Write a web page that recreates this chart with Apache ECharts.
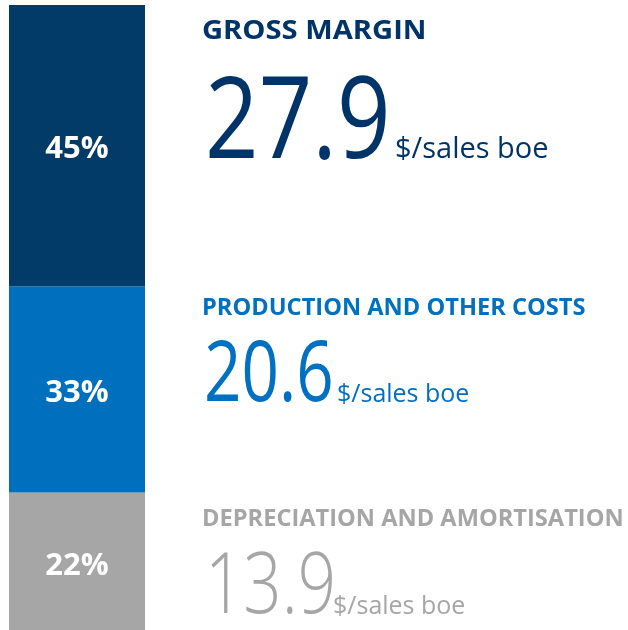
<!DOCTYPE html>
<html>
<head>
<meta charset="utf-8">
<style>
html,body{margin:0;padding:0;background:#fff;}
#chart{width:628px;height:630px;}
</style>
<script src="https://cdn.jsdelivr.net/npm/echarts@6/dist/echarts.min.js"></script>
</head>
<body>
<div id="chart"></div>
<script>
// ---- data ----
const categories = ['Cost structure'];
const segmentNames = ['Depreciation and amortisation', 'Production and other costs', 'Gross margin'];
const shares = [22, 33, 45];               // % of bar, bottom to top
const perBoe = [13.9, 20.6, 27.9];          // $/sales boe, same order
const headings = ['DEPRECIATION AND AMORTISATION', 'PRODUCTION AND OTHER COSTS', 'GROSS MARGIN'];
const unitLabel = '$/sales boe';

// ---- styles ----
const barColors = ['#A6A6A6', '#0070BE', '#023B67'];
const textColors = ['#A6A6A6', '#0070C0', '#003469'];
const labelOffsets = [5, 4, 4];
const FONT = '"Open Sans", "Noto Sans", sans-serif';

const chart = echarts.init(document.getElementById('chart'), null, {renderer: 'canvas'});

const series = segmentNames.map((name, i) => ({
  name: name,
  type: 'bar',
  stack: 'total',
  barWidth: '100%',
  data: [shares[i]],
  itemStyle: {color: barColors[i]},
  label: {
    show: true,
    position: 'inside',
    offset: [0, labelOffsets[i]],
    formatter: '{c}%',
    color: '#fff',
    fontFamily: FONT,
    fontWeight: 'bold',
    fontSize: 31
  },
  emphasis: {disabled: true},
  silent: true
}));

// layout of text blocks
const layout = {
  2: {headY: 31, headSize: 27.5, headScale: 1.06, numX: 205, numY: 126, numSize: 113, numWeight: 400, numScale: 0.83, unitX: 395, unitY: 150, unitSize: 29},
  1: {headY: 309, headSize: 22.5, headScale: 1.05, numX: 204, numY: 377, numSize: 84, numWeight: 400, numScale: 0.78, unitX: 337, unitY: 395, unitSize: 25},
  0: {headY: 520, headSize: 22.5, headScale: 1.05, numX: 205, numY: 589, numSize: 84, numWeight: 300, numScale: 0.80, unitX: 333, unitY: 607, unitSize: 25}
};

const graphics = [];
[2, 1, 0].forEach(i => {
  const L = layout[i];
  graphics.push({
    type: 'text', x: 202, y: L.headY, scaleX: L.headScale, silent: true,
    style: {text: headings[i], fill: textColors[i], font: `bold ${L.headSize}px ${FONT}`,
            textAlign: 'left', textVerticalAlign: 'middle'}
  });
  graphics.push({
    type: 'text', x: L.numX, y: L.numY, scaleX: L.numScale, silent: true,
    style: {text: perBoe[i].toFixed(1), fill: textColors[i], font: `${L.numWeight} ${L.numSize}px ${FONT}`,
            textAlign: 'left', textVerticalAlign: 'middle'}
  });
  graphics.push({
    type: 'text', x: L.unitX, y: L.unitY, silent: true,
    style: {text: unitLabel, fill: textColors[i], font: `${L.unitSize}px ${FONT}`,
            textAlign: 'left', textVerticalAlign: 'middle'}
  });
});

chart.setOption({
  animation: false,
  grid: {left: 9, top: 5, width: 136, bottom: 0, containLabel: false},
  xAxis: {type: 'category', data: categories, show: false},
  yAxis: {type: 'value', min: 0, max: 100, show: false},
  series: series,
  graphic: graphics
});
</script>
</body>
</html>
